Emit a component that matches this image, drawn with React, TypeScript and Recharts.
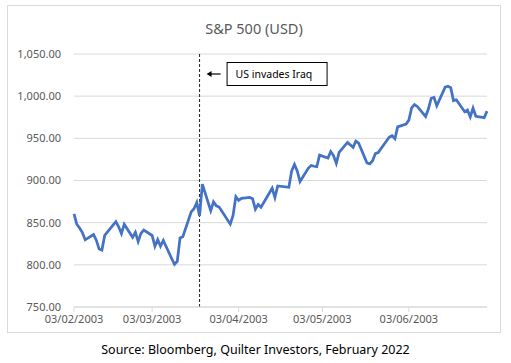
import { CartesianGrid, Line, LineChart, ReferenceLine, XAxis, YAxis } from "recharts";

// S&P 500 daily closes, Feb - Jul 2003
const tradeDates = [
  "2003-02-03", "2003-02-04", "2003-02-05", "2003-02-06", "2003-02-07",
  "2003-02-10", "2003-02-11", "2003-02-12", "2003-02-13", "2003-02-14",
  "2003-02-18", "2003-02-19", "2003-02-20", "2003-02-21",
  "2003-02-24", "2003-02-25", "2003-02-26", "2003-02-27", "2003-02-28",
  "2003-03-03", "2003-03-04", "2003-03-05", "2003-03-06", "2003-03-07",
  "2003-03-10", "2003-03-11", "2003-03-12", "2003-03-13", "2003-03-14",
  "2003-03-17", "2003-03-18", "2003-03-19", "2003-03-20", "2003-03-21",
  "2003-03-24", "2003-03-25", "2003-03-26", "2003-03-27", "2003-03-28",
  "2003-03-31", "2003-04-01", "2003-04-02", "2003-04-03", "2003-04-04",
  "2003-04-07", "2003-04-08", "2003-04-09", "2003-04-10", "2003-04-11",
  "2003-04-14", "2003-04-15", "2003-04-16", "2003-04-17",
  "2003-04-21", "2003-04-22", "2003-04-23", "2003-04-24", "2003-04-25",
  "2003-04-28", "2003-04-29", "2003-04-30", "2003-05-01", "2003-05-02",
  "2003-05-05", "2003-05-06", "2003-05-07", "2003-05-08", "2003-05-09",
  "2003-05-12", "2003-05-13", "2003-05-14", "2003-05-15", "2003-05-16",
  "2003-05-19", "2003-05-20", "2003-05-21", "2003-05-22", "2003-05-23",
  "2003-05-27", "2003-05-28", "2003-05-29", "2003-05-30",
  "2003-06-02", "2003-06-03", "2003-06-04", "2003-06-05", "2003-06-06",
  "2003-06-09", "2003-06-10", "2003-06-11", "2003-06-12", "2003-06-13",
  "2003-06-16", "2003-06-17", "2003-06-18", "2003-06-19", "2003-06-20",
  "2003-06-23", "2003-06-24", "2003-06-25", "2003-06-26", "2003-06-27",
  "2003-06-30", "2003-07-01",
];

const closes = [
  860.3, 848.2, 843.6, 838.2, 829.7,
  836.0, 829.2, 818.7, 817.4, 834.9,
  851.2, 845.1, 837.1, 848.2,
  832.6, 838.6, 827.6, 837.3, 841.2,
  834.8, 822.0, 829.9, 822.1, 828.9,
  807.5, 800.7, 804.2, 831.9, 833.3,
  862.8, 866.5, 874.0, 858.0, 895.8,
  864.2, 874.7, 870.0, 868.5, 863.5,
  848.2, 858.5, 880.9, 876.5, 878.9,
  879.9, 878.3, 866.0, 871.6, 868.3,
  885.2, 890.8, 879.9, 893.6,
  892.0, 911.4, 919.0, 911.4, 898.8,
  914.8, 917.8, 916.9, 916.3, 930.1,
  926.6, 934.4, 929.6, 920.3, 933.4,
  945.1, 942.3, 939.3, 946.7, 944.3,
  920.8, 919.7, 923.4, 931.9, 933.2,
  951.5, 953.2, 949.6, 963.6,
  967.0, 971.6, 986.2, 990.1, 987.8,
  975.9, 984.8, 997.5, 998.5, 988.6,
  1010.7, 1011.7, 1010.1, 994.7, 995.7,
  981.6, 983.5, 975.3, 985.8, 976.2,
  974.5, 982.3,
];

const xTickDates = ["2003-02-03", "2003-03-03", "2003-04-03", "2003-05-03", "2003-06-03"];
const yTicks = [750, 800, 850, 900, 950, 1000, 1050];
const eventDate = "2003-03-20";
const eventLabel = "US invades Iraq";

const START = Date.UTC(2003, 1, 3);
const DAY = 86400000;

function dayOffset(iso: string) {
  const [y, m, d] = iso.split("-").map(Number);
  return Math.round((Date.UTC(y, m - 1, d) - START) / DAY);
}

function fmtDay(n: number) {
  const dt = new Date(START + n * DAY);
  const dd = String(dt.getUTCDate()).padStart(2, "0");
  const mm = String(dt.getUTCMonth() + 1).padStart(2, "0");
  return `${dd}/${mm}/${dt.getUTCFullYear()}`;
}

const data = tradeDates.map((d, i) => ({ day: dayOffset(d), close: closes[i] }));
const lastDay = dayOffset(tradeDates[tradeDates.length - 1]);

const labelColor = "#595959";
const font = '"Noto Sans", sans-serif';

function EventLabel(props: any) {
  const { x, y } = props.viewBox;
  const ay = y + 20;
  return (
    <g>
      <line x1={x + 11} y1={ay} x2={x + 21} y2={ay} stroke="#000" strokeWidth={1.2} />
      <polygon points={`${x + 7},${ay} ${x + 12},${ay - 3} ${x + 12},${ay + 3}`} fill="#000" />
      <rect x={x + 27.5} y={y + 8.5} width={100} height={23} fill="#fff" stroke="#000" strokeWidth={1} />
      <text x={x + 36} y={y + 24} fontSize={10.5} fontFamily={font} fill="#000">
        {eventLabel}
      </text>
    </g>
  );
}

export default function App() {
  return (
    <div
      style={{
        position: "absolute",
        left: 0,
        top: 0,
        width: 511,
        height: 363,
        background: "#fff",
        fontFamily: font,
      }}
    >
      <div
        style={{
          position: "absolute",
          left: 7,
          top: 5,
          width: 494,
          height: 328,
          boxSizing: "border-box",
          border: "1px solid #d9d9d9",
        }}
      />
      <div
        style={{
          position: "absolute",
          left: 7,
          top: 18,
          width: 494,
          textAlign: "center",
          fontSize: 14.5,
          lineHeight: "20px",
          color: labelColor,
        }}
      >
        S&amp;P 500 (USD)
      </div>

      <div style={{ position: "absolute", left: 7, top: 5 }}>
        <LineChart
          width={494}
          height={328}
          data={data}
          margin={{ top: 49, right: 14, left: 0, bottom: 0 }}
        >
          <CartesianGrid vertical={false} stroke="#d9d9d9" />
          <XAxis
            dataKey="day"
            type="number"
            domain={[0, lastDay]}
            ticks={xTickDates.map(dayOffset)}
            tickFormatter={fmtDay}
            height={26}
            stroke="#d9d9d9"
            tickSize={5}
            tickMargin={3}
            tick={{ fill: labelColor, fontSize: 11, fontFamily: font }}
          />
          <YAxis
            domain={[750, 1050]}
            ticks={yTicks}
            width={67}
            axisLine={false}
            tickLine={false}
            tickSize={0}
            tickMargin={13}
            tickFormatter={(v: number) =>
              v.toLocaleString("en-US", { minimumFractionDigits: 2, maximumFractionDigits: 2 })
            }
            tick={{ fill: labelColor, fontSize: 11, fontFamily: font }}
          />
          <ReferenceLine
            x={dayOffset(eventDate)}
            stroke="#222"
            strokeDasharray="3 2"
            strokeWidth={1}
            label={<EventLabel />}
          />
          <Line
            type="linear"
            dataKey="close"
            stroke="#4472C4"
            strokeWidth={2.75}
            dot={false}
            isAnimationActive={false}
          />
        </LineChart>
      </div>

      <div
        style={{
          position: "absolute",
          left: 0,
          top: 341,
          width: 511,
          textAlign: "center",
          fontSize: 12.5,
          lineHeight: "17px",
          color: "#000",
        }}
      >
        Source: Bloomberg, Quilter Investors, February 2022
      </div>
    </div>
  );
}
